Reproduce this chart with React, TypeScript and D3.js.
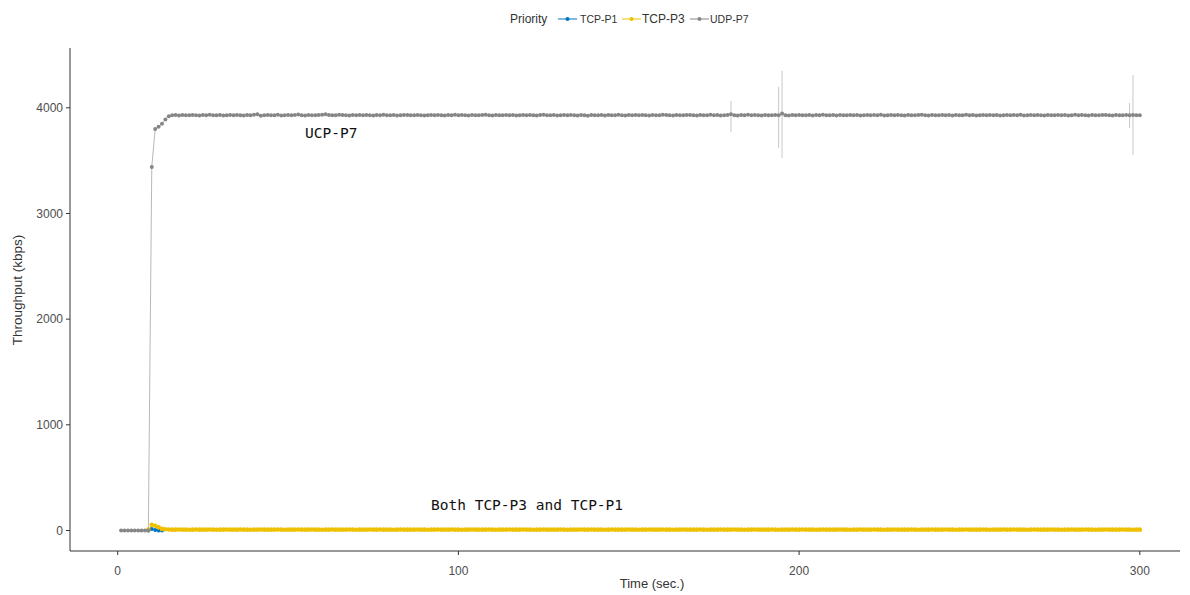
import React from "react";
import * as d3 from "d3";

// UDP-P7 throughput, one value per second, t = 1..300
const udpTime = d3.range(1, 301);
const udpValues = [
  0, 0, 0, 0, 0, 0, 0, 0, 0, 3440, 3800, 3820, 3850, 3890, 3920,
  3930, 3932, 3928, 3931, 3930, 3929, 3933, 3930, 3927, 3931, 3930, 3934, 3929, 3930, 3931,
  3928, 3930, 3933, 3929, 3931, 3930, 3927, 3932, 3930, 3935, 3940, 3925, 3930, 3931, 3929,
  3930, 3934, 3928, 3930, 3932, 3929, 3931, 3936, 3930, 3927, 3933, 3930, 3929, 3931, 3935,
  3938, 3932, 3930, 3929, 3934, 3931, 3930, 3928, 3933, 3930, 3931, 3929, 3932, 3930, 3928,
  3931, 3930, 3934, 3929, 3930, 3932, 3928, 3930, 3931, 3933, 3929, 3930, 3932, 3930, 3928,
  3930, 3933, 3929, 3931, 3930, 3928, 3932, 3930, 3934, 3929, 3931, 3930, 3927, 3932, 3930,
  3929, 3931, 3934, 3930, 3928, 3932, 3930, 3929, 3931, 3930, 3933, 3928, 3930, 3931, 3929,
  3932, 3930, 3928, 3931, 3935, 3929, 3930, 3932, 3928, 3930, 3931, 3929, 3933, 3930, 3928,
  3931, 3930, 3926, 3933, 3929, 3930, 3932, 3928, 3931, 3930, 3929, 3934, 3930, 3928, 3931,
  3930, 3933, 3929, 3931, 3930, 3927, 3932, 3930, 3929, 3934, 3931, 3930, 3928, 3932, 3930,
  3929, 3931, 3933, 3930, 3928, 3932, 3930, 3929, 3934, 3930, 3931, 3928, 3930, 3932, 3940,
  3930, 3928, 3932, 3930, 3934, 3929, 3931, 3930, 3927, 3933, 3930, 3929, 3932, 3930, 3945,
  3930, 3928, 3931, 3930, 3933, 3929, 3930, 3932, 3928, 3931, 3930, 3934, 3929, 3930, 3931,
  3928, 3932, 3930, 3929, 3933, 3930, 3931, 3928, 3930, 3932, 3929, 3931, 3930, 3934, 3928,
  3930, 3931, 3929, 3933, 3930, 3928, 3932, 3930, 3929, 3931, 3934, 3930, 3928, 3931, 3930,
  3929, 3933, 3930, 3931, 3928, 3932, 3930, 3929, 3934, 3930, 3931, 3928, 3930, 3932, 3929,
  3931, 3930, 3933, 3928, 3930, 3932, 3929, 3931, 3930, 3934, 3928, 3930, 3931, 3929, 3932,
  3930, 3928, 3933, 3930, 3929, 3931, 3930, 3932, 3928, 3930, 3934, 3929, 3931, 3930, 3928,
  3932, 3930, 3929, 3931, 3933, 3930, 3928, 3932, 3930, 3929, 3931, 3930, 3933, 3930, 3930,
];

// repeated samples at the same second -> vertical strokes
const spikeTime = [180, 194, 195, 297, 298];
const spikeLow = [3770, 3620, 3525, 3810, 3555];
const spikeHigh = [4065, 4200, 4350, 4045, 4310];

// TCP-P3, t = 9..300
const tcp3Time = d3.range(9, 301);
const tcp3Values = [
  10, 55, 45, 30, 15, 12,
  9, 8, 8, 9, 8, 8, 7, 8, 9, 8, 8, 8, 9, 8, 7, 8, 8, 9, 8, 8,
  8, 9, 8, 8, 7, 8, 8, 9, 8, 8, 8, 8, 9, 8, 7, 8, 8, 8, 9, 8,
  8, 8, 9, 8, 8, 7, 8, 8, 9, 8, 8, 8, 8, 9, 8, 7, 8, 8, 8, 9,
  8, 8, 9, 8, 8, 8, 7, 8, 9, 8, 8, 8, 8, 9, 8, 8, 7, 8, 8, 9,
  8, 8, 8, 9, 8, 8, 7, 8, 8, 9, 8, 8, 8, 8, 9, 8, 7, 8, 8, 8,
  9, 8, 8, 8, 9, 8, 8, 7, 8, 8, 9, 8, 8, 8, 8, 9, 8, 7, 8, 8,
  8, 9, 8, 8, 9, 8, 8, 8, 7, 8, 9, 8, 8, 8, 8, 9, 8, 8, 7, 8,
  8, 9, 8, 8, 8, 9, 8, 8, 7, 8, 8, 9, 8, 8, 8, 8, 9, 8, 7, 8,
  8, 8, 9, 8, 8, 8, 9, 8, 8, 7, 8, 8, 9, 8, 8, 8, 8, 9, 8, 7,
  8, 8, 8, 9, 8, 8, 9, 8, 8, 8, 7, 8, 9, 8, 8, 8, 8, 9, 8, 8,
  7, 8, 8, 9, 8, 8, 8, 9, 8, 8, 7, 8, 8, 9, 8, 8, 8, 8, 9, 8,
  7, 8, 8, 8, 9, 8, 8, 8, 9, 8, 8, 7, 8, 8, 9, 8, 8, 8, 8, 9,
  8, 7, 8, 8, 8, 9, 8, 8, 9, 8, 8, 8, 7, 8, 9, 8, 8, 8, 8, 9,
  8, 8, 7, 8, 8, 9, 8, 8, 8, 9, 8, 8, 7, 8, 8, 9, 8, 8, 8, 8,
  9, 8, 8, 7, 8, 8,
];

// TCP-P1, t = 9..13 (rest hidden under TCP-P3)
const tcp1Time = [9, 10, 11, 12, 13];
const tcp1Values = [0, 15, 5, 0, 0];

const legendLabels = ["TCP-P1", "TCP-P3", "UDP-P7"];
const colors = ["#0073C2", "#EFC000", "#868686"];
const xTicks = [0, 100, 200, 300];
const yTicks = [0, 1000, 2000, 3000, 4000];

const W = 1190;
const H = 595;

export default function App() {
  const x = d3.scaleLinear().domain([-14, 311.8]).range([70, 1180]);
  const y = d3.scaleLinear().domain([-194, 4566]).range([551, 48]);

  const line = d3
    .line<[number, number]>()
    .defined((d) => d[1] != null)
    .x((d) => x(d[0]))
    .y((d) => y(d[1]));

  const udp = udpTime.map((t, i) => [t, udpValues[i]] as [number, number]);
  const tcp3 = tcp3Time
    .map((t, i) => [t, tcp3Values[i]] as [number, number])
    .filter((d) => d[1] != null);
  const tcp1 = tcp1Time.map((t, i) => [t, tcp1Values[i]] as [number, number]);

  const font = "'Liberation Sans', Arial, sans-serif";
  const mono = "'DejaVu Sans Mono', monospace";

  // legend layout
  const legendX = [558, 622, 690];
  const legendTextX = [580, 642, 710];

  return (
    <svg
      width={W}
      height={H}
      style={{ position: "fixed", left: 0, top: 0, background: "#fff" }}
    >
      {/* TCP-P1 */}
      <path d={line(tcp1) || ""} fill="none" stroke={colors[0]} strokeWidth={0.8} />
      {tcp1.map((d, i) => (
        <circle key={"p1" + i} cx={x(d[0])} cy={y(d[1])} r={2} fill={colors[0]} />
      ))}

      {/* TCP-P3 */}
      <path d={line(tcp3) || ""} fill="none" stroke={colors[1]} strokeWidth={0.8} />
      {tcp3.map((d, i) => (
        <circle key={"p3" + i} cx={x(d[0])} cy={y(d[1])} r={2.3} fill={colors[1]} />
      ))}

      {/* UDP-P7 */}
      {spikeTime.map((t, i) => (
        <line
          key={"s" + i}
          x1={x(t)}
          x2={x(t)}
          y1={y(spikeLow[i])}
          y2={y(spikeHigh[i])}
          stroke="#c8c8c8"
          strokeWidth={1}
        />
      ))}
      <path d={line(udp) || ""} fill="none" stroke="#b0b0b0" strokeWidth={0.9} />
      {udp.map((d, i) => (
        <circle key={"p7" + i} cx={x(d[0])} cy={y(d[1])} r={2} fill={colors[2]} />
      ))}

      {/* axes */}
      <line x1={70} x2={70} y1={48} y2={551} stroke="#333" strokeWidth={1} />
      <line x1={70} x2={1180} y1={551} y2={551} stroke="#333" strokeWidth={1} />
      {yTicks.map((t) => (
        <g key={"y" + t}>
          <line x1={66} x2={70} y1={y(t)} y2={y(t)} stroke="#333" />
          <text
            x={63}
            y={y(t)}
            dy="0.35em"
            textAnchor="end"
            fontFamily={font}
            fontSize={12}
            fill="#4d4d4d"
          >
            {t}
          </text>
        </g>
      ))}
      {xTicks.map((t) => (
        <g key={"x" + t}>
          <line x1={x(t)} x2={x(t)} y1={551} y2={555} stroke="#333" />
          <text
            x={x(t)}
            y={571}
            dy="0.35em"
            textAnchor="middle"
            fontFamily={font}
            fontSize={12}
            fill="#4d4d4d"
          >
            {t}
          </text>
        </g>
      ))}
      <text
        transform="translate(22,290) rotate(-90)"
        textAnchor="middle"
        fontFamily={font}
        fontSize={13.5}
        fill="#333"
      >
        Throughput (kbps)
      </text>
      <text
        x={652}
        y={588}
        textAnchor="middle"
        fontFamily={font}
        fontSize={13}
        fill="#333"
      >
        Time (sec.)
      </text>

      {/* annotations */}
      <text x={305} y={138} fontFamily={mono} fontSize={14.5} fill="#111">
        UCP-P7
      </text>
      <text x={431} y={510} fontFamily={mono} fontSize={14.5} fill="#111">
        Both TCP-P3 and TCP-P1
      </text>

      {/* legend */}
      <text x={510} y={23} fontFamily={font} fontSize={12} fill="#333">
        Priority
      </text>
      {legendLabels.map((lab, i) => (
        <g key={lab}>
          <line
            x1={legendX[i]}
            x2={legendX[i] + 19}
            y1={19}
            y2={19}
            stroke={colors[i]}
            strokeWidth={1}
          />
          <circle cx={legendX[i] + 9.5} cy={19} r={2} fill={colors[i]} />
          <text
            x={legendTextX[i]}
            y={23}
            fontFamily={font}
            fontSize={i === 1 ? 12 : 10.5}
            fill="#333"
          >
            {lab}
          </text>
        </g>
      ))}
    </svg>
  );
}
